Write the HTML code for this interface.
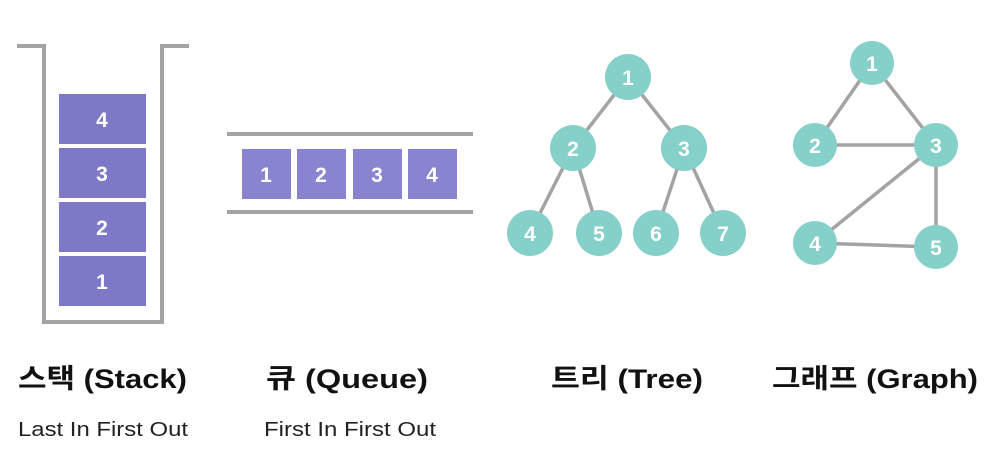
<!DOCTYPE html>
<html><head><meta charset="utf-8"><style>
body{margin:0;background:#fff;width:988px;height:449px;overflow:hidden}
svg text{font-family:"Liberation Sans","Noto Sans CJK KR",sans-serif}
</style></head><body>
<svg width="988" height="449" viewBox="0 0 988 449">
<g stroke="#a3a3a3" stroke-width="4" fill="none">
<polyline points="17,46 44,46 44,322 162,322 162,46 189,46"/>
<line x1="227" y1="134" x2="473" y2="134"/>
<line x1="227" y1="212" x2="473" y2="212"/>
</g>
<g fill="#7d79c6">
<rect x="59" y="94" width="87" height="50"/>
<rect x="59" y="148" width="87" height="50"/>
<rect x="59" y="202" width="87" height="50"/>
<rect x="59" y="256" width="87" height="50"/>
</g>
<g fill="#8884cf">
<rect x="242" y="149" width="49" height="50"/>
<rect x="297" y="149" width="49" height="50"/>
<rect x="353" y="149" width="49" height="50"/>
<rect x="408" y="149" width="49" height="50"/>
</g>
<g fill="#fff" font-weight="bold" font-size="21" text-anchor="middle">
<text x="102" y="127">4</text><text x="102" y="181">3</text><text x="102" y="235">2</text><text x="102" y="289">1</text>
<text x="266" y="182">1</text><text x="321" y="182">2</text><text x="377" y="182">3</text><text x="432" y="182">4</text>
</g>
<g stroke="#a3a3a3" stroke-width="3.5">
<line x1="628" y1="77" x2="573" y2="148"/><line x1="628" y1="77" x2="684" y2="148"/>
<line x1="573" y1="148" x2="530" y2="233"/><line x1="573" y1="148" x2="599" y2="233"/>
<line x1="684" y1="148" x2="656" y2="233"/><line x1="684" y1="148" x2="723" y2="233"/>
<line x1="872" y1="63" x2="815" y2="145"/><line x1="872" y1="63" x2="936" y2="145"/>
<line x1="815" y1="145" x2="936" y2="145"/><line x1="936" y1="145" x2="815" y2="243"/>
<line x1="936" y1="145" x2="936" y2="247"/><line x1="815" y1="243" x2="936" y2="247"/>
</g>
<g fill="#85d0c8">
<circle cx="628" cy="77" r="23"/><circle cx="573" cy="148" r="23"/><circle cx="684" cy="148" r="23"/>
<circle cx="530" cy="233" r="23"/><circle cx="599" cy="233" r="23"/><circle cx="656" cy="233" r="23"/><circle cx="723" cy="233" r="23"/>
<circle cx="872" cy="63" r="22"/><circle cx="815" cy="145" r="22"/><circle cx="936" cy="145" r="22"/>
<circle cx="815" cy="243" r="22"/><circle cx="936" cy="247" r="22"/>
</g>
<g fill="#fff" font-weight="bold" font-size="21" text-anchor="middle">
<text x="628" y="85">1</text><text x="573" y="156">2</text><text x="684" y="156">3</text>
<text x="530" y="241">4</text><text x="599" y="241">5</text><text x="656" y="241">6</text><text x="723" y="241">7</text>
<text x="872" y="71">1</text><text x="815" y="153">2</text><text x="936" y="153">3</text>
<text x="815" y="251">4</text><text x="936" y="255">5</text>
</g>
<g fill="#111" font-weight="bold" font-size="27">
<text x="18" y="388" textLength="169" lengthAdjust="spacingAndGlyphs">스택 (Stack)</text>
<text x="266" y="388" textLength="162" lengthAdjust="spacingAndGlyphs">큐 (Queue)</text>
<text x="551" y="388" textLength="152" lengthAdjust="spacingAndGlyphs">트리 (Tree)</text>
<text x="772" y="388" textLength="206" lengthAdjust="spacingAndGlyphs">그래프 (Graph)</text>
</g>
<g fill="#222" font-size="20">
<text x="18" y="436" textLength="170" lengthAdjust="spacingAndGlyphs">Last In First Out</text>
<text x="264" y="436" textLength="172" lengthAdjust="spacingAndGlyphs">First In First Out</text>
</g>
</svg>
</body></html>
